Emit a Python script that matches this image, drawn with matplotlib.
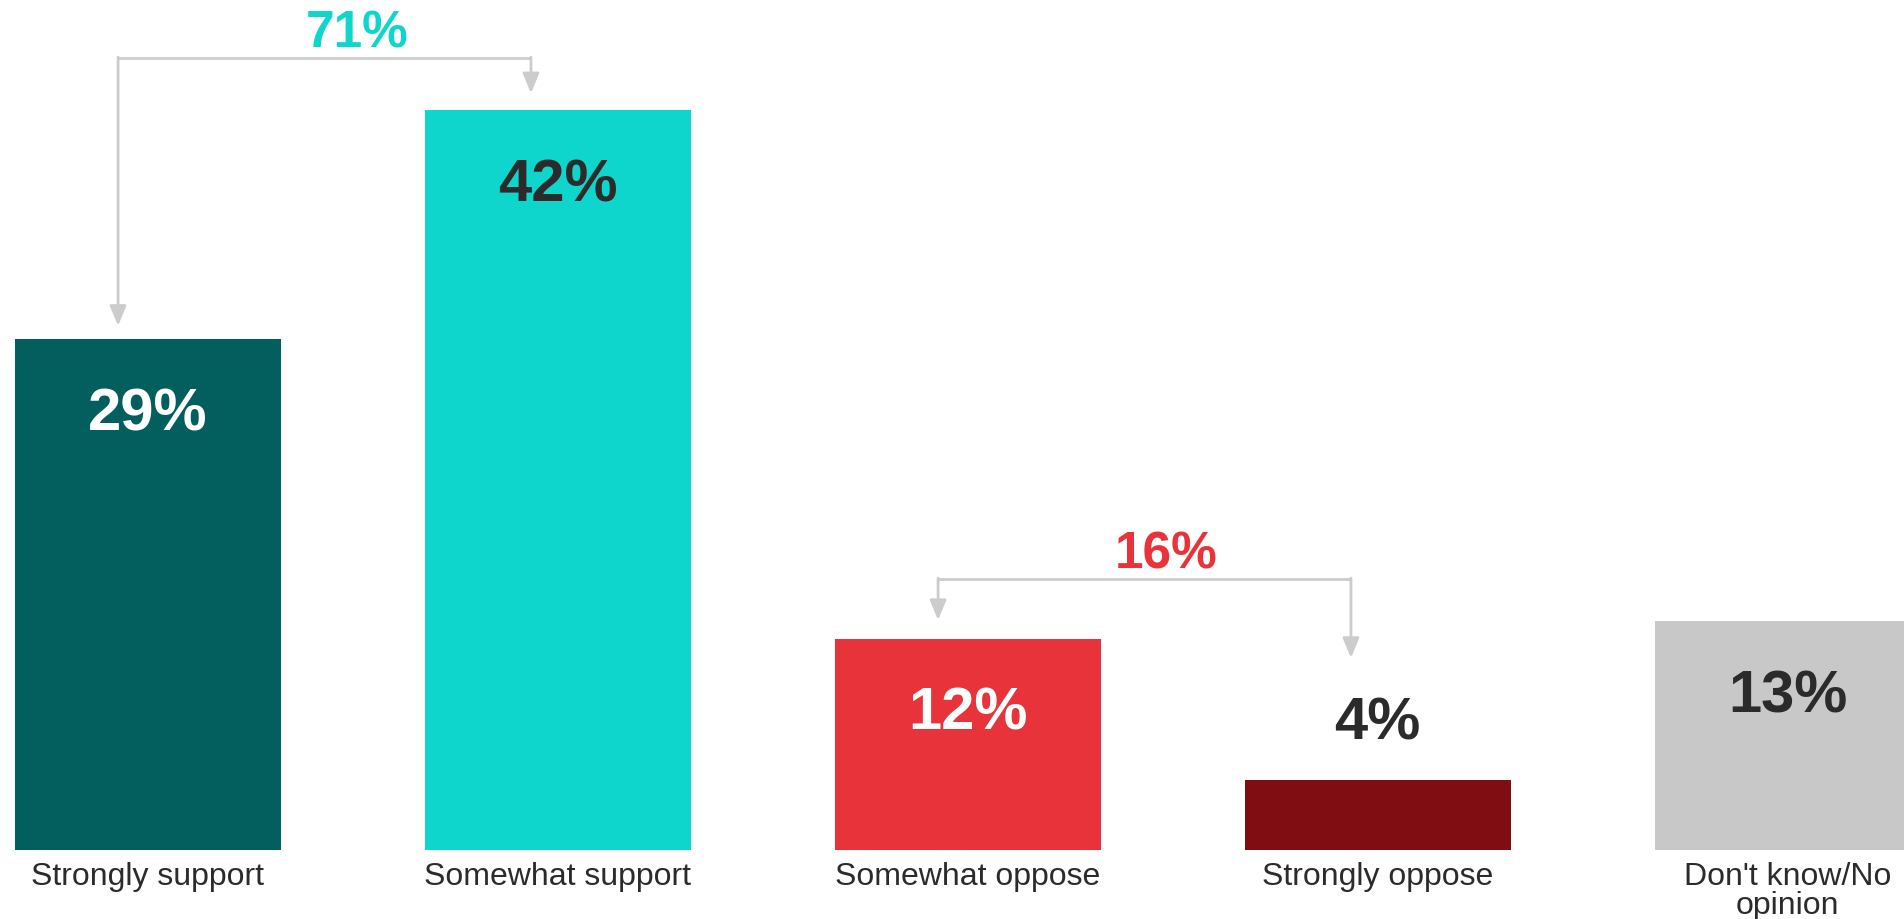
import matplotlib.pyplot as plt

plt.rcParams['font.family'] = ['Liberation Sans', 'DejaVu Sans']

categorias = ['Strongly support', 'Somewhat support', 'Somewhat oppose',
              'Strongly oppose', "Don't know/No\nopinion"]
valores = [29, 42, 12, 4, 13]
colores = ['#035F5D', '#0FD6CC', '#E8333A', '#7F0D11', '#C8C8C8']
colores_texto = ['white', '#2B2B2B', 'white', '#2B2B2B', '#2B2B2B']

# grupos: (indice izquierdo, indice derecho, total, color)
grupos = [(0, 1, '71%', '#0FD6CC'), (2, 3, '16%', '#E8333A')]

fig = plt.figure(figsize=(19.04, 9.19), dpi=100)
ax = fig.add_axes([0, 69 / 919, 1, 850 / 919])
posiciones = list(range(len(valores)))
ax.bar(posiciones, valores, width=0.649, color=colores)

px_x = 410.0
xmin = -147.6 / px_x
ax.set_xlim(xmin, xmin + 1904 / px_x)
ax.set_ylim(0, 850 / 17.62)
ax.axis('off')

for x, v, c in zip(posiciones, valores, colores_texto):
    if v >= 8:
        ax.text(x, v - 4.3, f'{v}%', ha='center', va='center',
                fontsize=43, fontweight='bold', color=c)
    else:
        ax.text(x, v + 3.15, f'{v}%', ha='center', va='center',
                fontsize=43, fontweight='bold', color=c)

for x, nombre in zip(posiciones, categorias):
    ax.text(x, -0.68, nombre, ha='center', va='top', fontsize=23,
            color='#2B2B2B', linespacing=0.95, clip_on=False)

# corchetes con flechas
gris = '#CCCCCC'
ajustes = {0: (44.95, [0.75, 0.95], 46.3, 0.512), 2: (15.38, [1.05, 6.9], 16.75, 0.485)}
for izq, der, total, color in grupos:
    y_linea, gaps, y_texto, x_texto = ajustes[izq]
    xs = [izq - 0.072, der - 0.065]
    ax.plot(xs, [y_linea, y_linea], color=gris, lw=2, solid_capstyle='butt')
    for xx, idx, g in zip(xs, (izq, der), gaps):
        ax.annotate('', xy=(xx, valores[idx] + g), xytext=(xx, y_linea + 0.05),
                    arrowprops=dict(arrowstyle='-|>,head_length=1.2,head_width=0.5',
                                    color=gris, lw=2, shrinkA=0, shrinkB=0))
    ax.text(izq + x_texto, y_texto, total, ha='center', va='center',
            fontsize=37, fontweight='bold', color=color)

fig.savefig('out.png', dpi=100)
